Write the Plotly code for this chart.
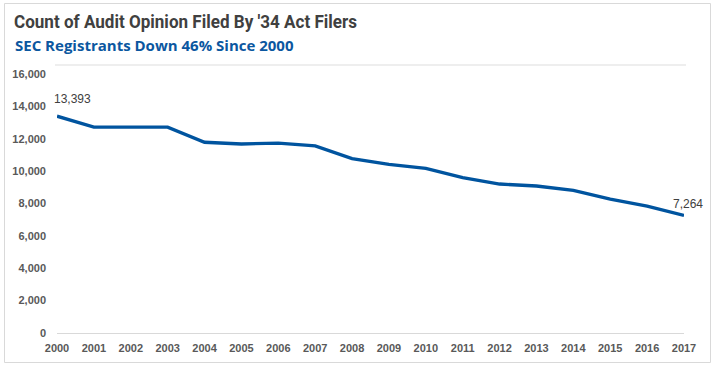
import plotly.graph_objects as go

years = list(range(2000, 2018))
counts = [13393, 12720, 12720, 12720, 11780, 11680, 11730, 11560, 10770,
          10420, 10170, 9600, 9200, 9080, 8810, 8270, 7840, 7264]
y_ticks = [0, 2000, 4000, 6000, 8000, 10000, 12000, 14000, 16000]
title = "Count of Audit Opinion Filed By '34 Act Filers"
subtitle = "SEC Registrants Down 46% Since 2000"

W, H = 718, 373
L, R, T, B = 57, 34, 74, 40
pw, ph = W - L - R, H - T - B


def px_x(px):
    return (px - L) / pw


def px_y(py):
    return (H - B - py) / ph


fig = go.Figure()
fig.add_trace(go.Scatter(
    x=years, y=counts, mode="lines",
    line=dict(color="#00549F", width=3.4),
    hoverinfo="x+y",
))

# data labels at first and last points
fig.add_annotation(x=years[0], y=counts[0], text=f"{counts[0]:,}", showarrow=False,
                   xanchor="left", yanchor="middle", xshift=-5, yshift=17,
                   font=dict(family="Liberation Sans, Arial", size=12, color="#404040"))
fig.add_annotation(x=years[-1], y=counts[-1], text=f"{counts[-1]:,}", showarrow=False,
                   xanchor="center", yanchor="middle", xshift=4, yshift=11,
                   font=dict(family="Liberation Sans, Arial", size=12, color="#404040"))

# subtitle
fig.add_annotation(xref="paper", yref="paper", x=px_x(13), y=px_y(45), text=f"<b>{subtitle}</b>",
                   showarrow=False, xanchor="left", yanchor="middle",
                   font=dict(family="Open Sans", size=15, color="#0B57A0"))

# top decorative line
fig.add_shape(type="line", xref="paper", yref="paper", x0=px_x(55), x1=px_x(686),
              y0=px_y(65), y1=px_y(65), line=dict(color="#e8e8e8", width=1.5))
# chart border
fig.add_shape(type="rect", xref="paper", yref="paper", x0=px_x(4.5), x1=px_x(710.5),
              y0=px_y(362.5), y1=px_y(3.5), line=dict(color="#d9d9d9", width=1))

fig.update_layout(
    width=W, height=H,
    margin=dict(l=L, r=R, t=T, b=B),
    paper_bgcolor="white", plot_bgcolor="white",
    showlegend=False,
    title=dict(text=f"<b>{title}</b>", x=14 / W, xanchor="left", y=1 - 21.5 / H, yanchor="middle",
               font=dict(family="Roboto", size=19, color="#404040")),
    xaxis=dict(
        range=[years[0], years[-1]], tickvals=years, ticktext=[str(y) for y in years],
        showgrid=False, zeroline=False, showline=True, linecolor="#d9d9d9", linewidth=1,
        ticks="", ticklabelstandoff=5,
        tickfont=dict(family="Liberation Sans, Arial", size=11, color="#595959", weight="bold"),
    ),
    yaxis=dict(
        range=[0, 16000], tickvals=y_ticks, ticktext=[f"{v:,}" for v in y_ticks],
        showgrid=False, zeroline=False, showline=False, ticks="", ticklabelstandoff=10,
        tickfont=dict(family="Liberation Sans, Arial", size=11, color="#595959", weight="bold"),
    ),
)

post = """
document.body.style.margin = '0';
document.querySelectorAll('.gtitle').forEach(function (t) {
  t.setAttribute('textLength', '343');
  t.setAttribute('lengthAdjust', 'spacingAndGlyphs');
});
"""
fig.write_html("out.html", post_script=post, config={"displayModeBar": False})
